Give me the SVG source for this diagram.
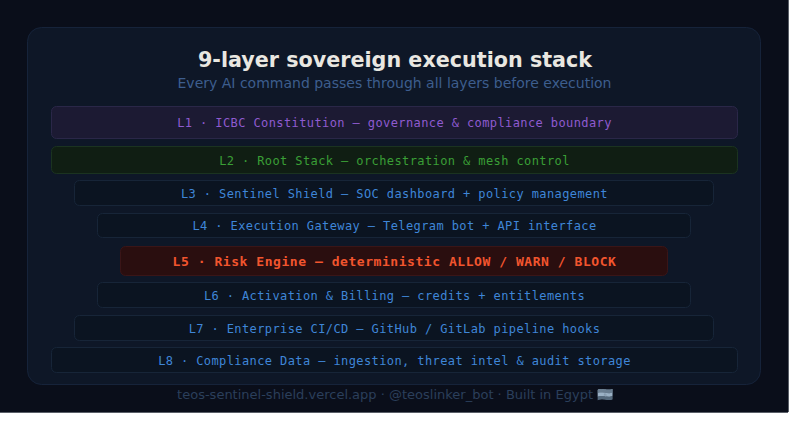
<svg xmlns="http://www.w3.org/2000/svg" width="800" height="424" viewBox="0 0 800 424">
<style>
.bg{fill:#0a0e1a}
.panel{fill:#0e1727;stroke:#16233a;stroke-width:1}
.box{stroke-width:1}
.std{fill:#0b1421;stroke:#172538}
.t{font-family:"DejaVu Sans Mono","Liberation Mono",monospace;font-size:12px;letter-spacing:0.4px;text-anchor:middle;dominant-baseline:central}
.blue{fill:#3f86d8}
.title{font-family:"DejaVu Sans","Liberation Sans",sans-serif;font-weight:bold;font-size:20.7px;fill:#e9e7e1;text-anchor:middle}
.sub{font-family:"DejaVu Sans","Liberation Sans",sans-serif;font-size:14px;fill:#3d5e8e;text-anchor:middle}
.foot{font-family:"DejaVu Sans","Liberation Sans",sans-serif;font-size:13px;fill:#2b3f5b}
</style>
<defs>
<filter id="mono" x="0" y="0" width="1" height="1">
<feColorMatrix type="matrix" values="0.08 0.08 0.08 0 0.09  0.1 0.1 0.1 0 0.14  0.12 0.12 0.12 0 0.2  0 0 0 1 0"/>
</filter>
</defs>
<rect x="0" y="0" width="800" height="424" fill="#ffffff"/>
<rect class="bg" x="0" y="0" width="788" height="412"/>
<rect x="788" y="0" width="1" height="412" fill="#5a5f68"/>
<rect x="0" y="412" width="788" height="1" fill="#5a5f68"/>
<rect class="panel" x="27.5" y="27.5" width="733" height="357" rx="14"/>
<text class="title" x="395" y="67">9-layer sovereign execution stack</text>
<text class="sub" x="394.5" y="88">Every AI command passes through all layers before execution</text>
<g id="L1"><rect class="box" x="51.5" y="106.5" width="686" height="32" rx="5" fill="#1c1a33" stroke="#2a2748"/><text class="t" x="394.5" y="123" fill="#8f5bd0">L1 · ICBC Constitution — governance &amp; compliance boundary</text></g>
<g id="L2"><rect class="box" x="51.5" y="146.5" width="686" height="27" rx="5" fill="#101e13" stroke="#1b3320"/><text class="t" x="394.5" y="160.5" fill="#3a9f36">L2 · Root Stack — orchestration &amp; mesh control</text></g>
<g id="L3"><rect class="box std" x="74.5" y="180.5" width="639" height="25" rx="5"/><text class="t blue" x="394.5" y="193.5">L3 · Sentinel Shield — SOC dashboard + policy management</text></g>
<g id="L4"><rect class="box std" x="97.5" y="213.5" width="593" height="24" rx="5"/><text class="t blue" x="394.5" y="226">L4 · Execution Gateway — Telegram bot + API interface</text></g>
<g id="L5"><rect class="box" x="120.5" y="246.5" width="547" height="29" rx="5" fill="#2a0e0f" stroke="#3a1517"/><text class="t" x="394.5" y="261" fill="#f2552e" style="font-size:13px;font-weight:bold;letter-spacing:0.55px">L5 · Risk Engine — deterministic ALLOW / WARN / BLOCK</text></g>
<g id="L6"><rect class="box std" x="97.5" y="282.5" width="593" height="25" rx="5"/><text class="t blue" x="394.5" y="295.5">L6 · Activation &amp; Billing — credits + entitlements</text></g>
<g id="L7"><rect class="box std" x="74.5" y="315.5" width="639" height="25" rx="5"/><text class="t blue" x="394.5" y="328.5">L7 · Enterprise CI/CD — GitHub / GitLab pipeline hooks</text></g>
<g id="L8"><rect class="box std" x="51.5" y="347.5" width="686" height="25" rx="5"/><text class="t blue" x="394.5" y="360.5">L8 · Compliance Data — ingestion, threat intel &amp; audit storage</text></g>
<g id="connectors"></g>
<text class="foot" x="593" y="398.5" text-anchor="end">teos-sentinel-shield.vercel.app · @teoslinker_bot · Built in Egypt</text>
<text class="foot" x="597" y="398.5" filter="url(#mono)">🇪🇬</text>
</svg>
